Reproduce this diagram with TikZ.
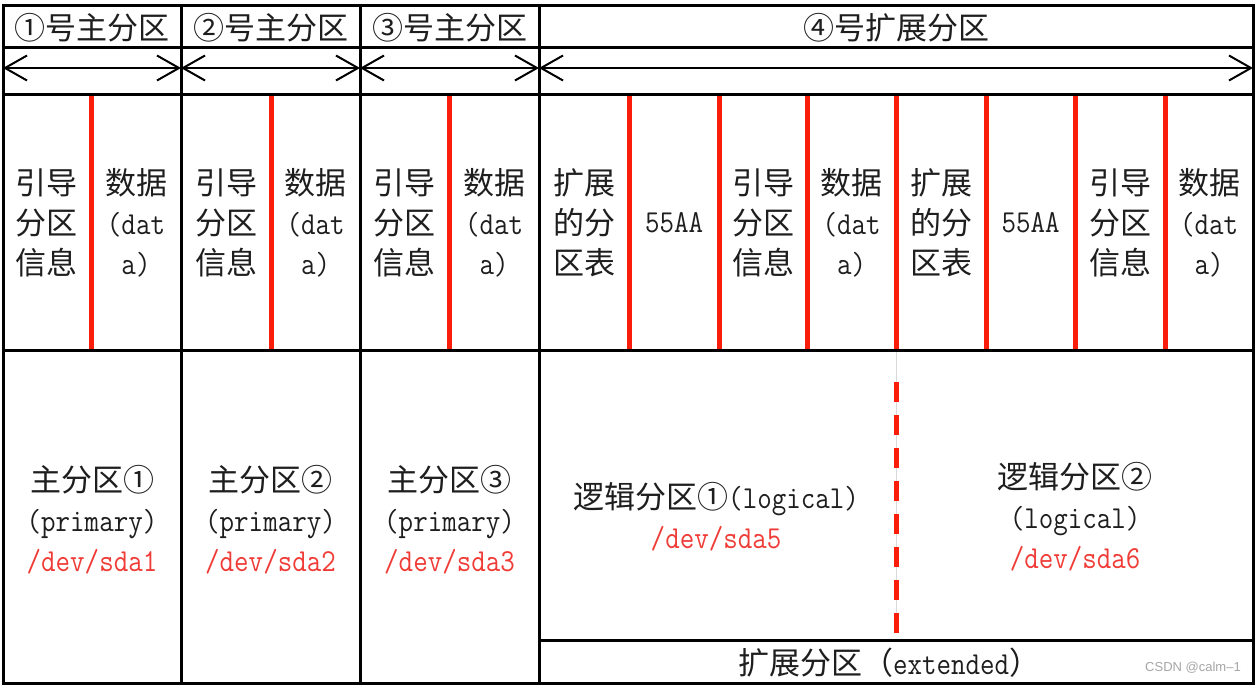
\documentclass[tikz,border=0pt]{standalone}
\usepackage{fontspec}
\setmonofont{Latin Modern Mono}[FakeStretch=0.88]
\newfontfamily\cjk{Noto Sans CJK SC}
\newfontfamily\wmfont{Liberation Sans}
\usetikzlibrary{arrows.meta}
\definecolor{redline}{RGB}{250,30,10}
\definecolor{redtext}{RGB}{240,60,55}
\definecolor{txt}{RGB}{30,30,30}
\newcommand\C[1]{{\cjk\fontsize{31}{40}\selectfont #1}}
\newcommand\R[1]{{\color{redtext}#1}}
\begin{document}
\begin{tikzpicture}[x=1pt,y=-1pt,
  blk/.style={line width=3pt,black},
  redl/.style={line width=5pt,redline},
  arr/.style={line width=2pt,black,{Straight Barb[length=22pt,width=25pt,line width=2pt]}-{Straight Barb[length=22pt,width=25pt,line width=2pt]}},
  lbl/.style={align=center,text=txt,inner sep=0pt,font=\ttfamily\fontsize{32}{40}\selectfont},
  hdr/.style={text=txt,inner sep=0pt,font=\cjk\fontsize{31}{40}\selectfont}]
\useasboundingbox (0,0) rectangle (1257,685);
\fill[white] (0,0) rectangle (1257,685);
% coordinates of the column borders on the arrow row
\coordinate (a0) at (3,68);
\coordinate (a1) at (181,68);
\coordinate (a2) at (360,68);
\coordinate (a3) at (539,68);
\coordinate (a4) at (1253,68);
% red separators in strip row
\foreach \x in {91,271,449,629,719,807,896,986,1075,1165}
  \draw[redl] (\x,94) -- (\x,350);
% dashed separator between logical partitions
\coordinate (d0) at (896,350);
\coordinate (d1) at (896,633);
\draw[gray!30,line width=1pt] (d0) -- (d1);
\draw[redl,dash pattern=on 20pt off 13pt] (896,382) -- (d1);
% grid lines
\draw[blk] (3,48) -- (1253,48);
\draw[blk] (3,94) -- (1253,94);
\draw[blk] (3,350) -- (1253,350);
\draw[blk] (539,640) -- (1253,640);
\foreach \x in {181,360,539}
  \draw[blk] (\x,6) -- (\x,683);
\draw[blk] (3,6) rectangle (1253,683);
% arrows
\draw[arr] (a0) -- (a1);
\draw[arr] (a1) -- (a2);
\draw[arr] (a2) -- (a3);
\draw[arr] (a3) -- (a4);
% headers
\node[hdr] (h1) at (92,28) {①号主分区};
\node[hdr] (h2) at (270.5,28) {②号主分区};
\node[hdr] (h3) at (449.5,28) {③号主分区};
\node[hdr] (h4) at (896,28) {④号扩展分区};
% strip cells
\node[lbl] (s1) at (47,223) {\C{引导}\\\C{分区}\\\C{信息}};
\node[lbl] (s2) at (136,223) {\C{数据}\\(dat\\a)};
\node[lbl] (s3) at (226,223) {\C{引导}\\\C{分区}\\\C{信息}};
\node[lbl] (s4) at (315.5,223) {\C{数据}\\(dat\\a)};
\node[lbl] (s5) at (404.5,223) {\C{引导}\\\C{分区}\\\C{信息}};
\node[lbl] (s6) at (494,223) {\C{数据}\\(dat\\a)};
\node[lbl] (s7) at (584,223) {\C{扩展}\\\C{的分}\\\C{区表}};
\node[lbl] (s8) at (674,223) {55AA};
\node[lbl] (s9) at (763,223) {\C{引导}\\\C{分区}\\\C{信息}};
\node[lbl] (s10) at (851.5,223) {\C{数据}\\(dat\\a)};
\node[lbl] (s11) at (941,223) {\C{扩展}\\\C{的分}\\\C{区表}};
\node[lbl] (s12) at (1030.5,223) {55AA};
\node[lbl] (s13) at (1120,223) {\C{引导}\\\C{分区}\\\C{信息}};
\node[lbl] (s14) at (1209,223) {\C{数据}\\(dat\\a)};
% bottom cells
\node[lbl] (p1) at (92,520) {\C{主分区①}\\(primary)\\\R{/dev/sda1}};
\node[lbl] (p2) at (270.5,520) {\C{主分区②}\\(primary)\\\R{/dev/sda2}};
\node[lbl] (p3) at (449.5,520) {\C{主分区③}\\(primary)\\\R{/dev/sda3}};
\node[lbl] (l1) at (716,517) {\C{逻辑分区①}(logical)\\\R{/dev/sda5}};
\node[lbl] (l2) at (1075,517) {\C{逻辑分区②}\\(logical)\\\R{/dev/sda6}};
\node[lbl] (ext) at (889,663) {\C{扩展分区（}extended\C{）}};
\node[text=gray!70,inner sep=0pt,font=\wmfont\fontsize{13}{15}\selectfont] (wm) at (1193,668) {CSDN @calm–1};
\end{tikzpicture}
\end{document}
